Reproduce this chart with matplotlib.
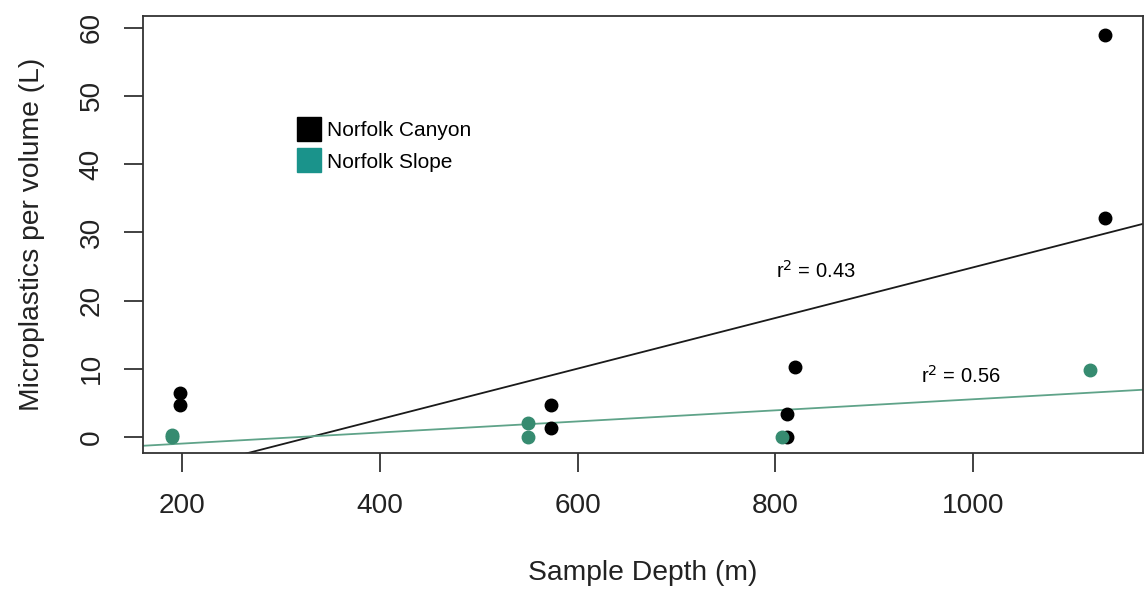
import numpy as np
import matplotlib
matplotlib.use("Agg")
import matplotlib.pyplot as plt
from matplotlib.lines import Line2D

plt.rcParams['font.family'] = ['Liberation Sans', 'DejaVu Sans']

# Data
canyon_depth = [198, 198, 573, 573, 820, 812, 812, 1133, 1133]
canyon_mp = [6.5, 4.7, 4.7, 1.3, 10.2, 3.4, 0.0, 58.9, 32.1]
slope_depth = [190, 190, 550, 550, 807, 1118]
slope_mp = [0.3, 0.0, 2.0, 0.0, 0.0, 9.8]
x_ticks = [200, 400, 600, 800, 1000]
y_ticks = [0, 10, 20, 30, 40, 50, 60]

black = '#000000'
teal_pt = '#368b70'
teal_line = '#5fa389'
teal_leg = '#1a938b'

fig = plt.figure(figsize=(11.45, 5.96), dpi=100)
ax = fig.add_axes([0.1249, 0.2399, 0.8734, 0.7333])

xlim = (160.6, 1171.7)
ylim = (-2.35, 61.7)

# regression lines
for xs, ys, col in [(canyon_depth, canyon_mp, '#1a1a1a'), (slope_depth, slope_mp, teal_line)]:
    b, a = np.polyfit(xs, ys, 1)
    xx = np.array(xlim)
    ax.plot(xx, a + b * xx, color=col, lw=1.3, zorder=2)

ax.plot(canyon_depth, canyon_mp, 'o', color=black, ms=9, zorder=3)
ax.plot(slope_depth, slope_mp, 'o', color=teal_pt, ms=9, zorder=3)

r2_c = np.corrcoef(canyon_depth, canyon_mp)[0, 1] ** 2
r2_s = np.corrcoef(slope_depth, slope_mp)[0, 1] ** 2
ax.text(841, 24.4, r'r$^2$ = %.2f' % r2_c, ha='center', va='center', fontsize=14.5)
ax.text(987, 8.9, r'r$^2$ = %.2f' % r2_s, ha='center', va='center', fontsize=14.5)

ax.set_xlim(*xlim)
ax.set_ylim(*ylim)
ax.set_xticks(x_ticks)
ax.set_yticks(y_ticks)
ax.tick_params(axis='both', direction='out', length=13.5, width=1.3, color='#333333',
               labelsize=20.2, labelcolor='#222222')
ax.tick_params(axis='x', pad=15.5)
ax.tick_params(axis='y', pad=14)
for lab in ax.get_yticklabels():
    lab.set_rotation(90)
    lab.set_va('center')
for s in ax.spines.values():
    s.set_color('#333333')
    s.set_linewidth(1.3)

ax.set_xlabel('Sample Depth (m)', fontsize=20.3, color='#222222', labelpad=29)
ax.set_ylabel('Microplastics per volume (L)', fontsize=20.3, color='#222222', labelpad=24)

handles = [Line2D([], [], marker='s', ls='none', color=black, ms=17),
           Line2D([], [], marker='s', ls='none', color=teal_leg, ms=17)]
ax.legend(handles, ['Norfolk Canyon', 'Norfolk Slope'], loc='upper left',
          bbox_to_anchor=(0.142, 0.783), frameon=False, fontsize=15,
          handletextpad=0.2, labelspacing=0.6, handlelength=1.3, borderpad=0)

fig.savefig('out.png', dpi=100)
